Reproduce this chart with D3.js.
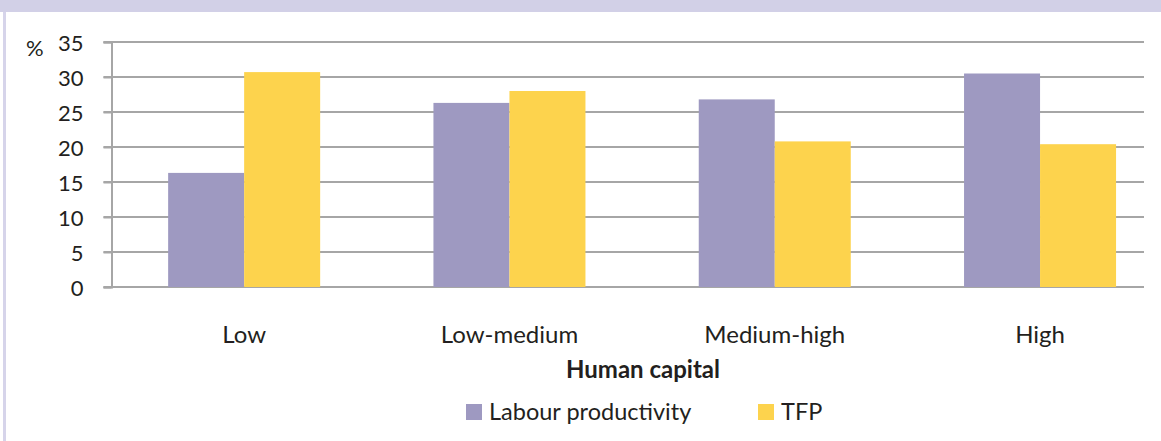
<!DOCTYPE html>
<html>
<head>
<meta charset="utf-8">
<script src="https://cdn.jsdelivr.net/npm/d3@7"></script>
<style>
  body { margin: 0; background: #fff; }
  text { font-family: Lato, "Open Sans", sans-serif; fill: #231f20; }
</style>
</head>
<body>
<div id="chart"></div>
<script>
var categories = ["Low", "Low-medium", "Medium-high", "High"];
var seriesNames = ["Labour productivity", "TFP"];
var labourProductivity = [16.3, 26.3, 26.8, 30.5];
var tfp = [30.7, 28.0, 20.8, 20.4];
var yTicks = [0, 5, 10, 15, 20, 25, 30, 35];
var seriesColors = ["#9e99c1", "#fdd34d"];

var width = 1161;
var height = 441;
var plotLeft = 111.5;
var plotTop = 42;
var plotBottom = 287;
var gridRight = 1144;
var step = 265.3;

var svg = d3.select("#chart")
    .append("svg")
    .attr("width", width)
    .attr("height", height);

// frame: header strip and left border
svg.append("rect").attr("x", 0).attr("y", 0).attr("width", width).attr("height", 12).attr("fill", "#d2d0e7");
svg.append("rect").attr("x", 3).attr("y", 12).attr("width", 3).attr("height", height - 12).attr("fill", "#d6d4ea");

var x = d3.scaleBand()
    .domain(categories)
    .range([plotLeft, plotLeft + step * categories.length])
    .paddingInner(0.427)
    .paddingOuter(0.2135);

var xs = d3.scaleBand()
    .domain(seriesNames)
    .range([0, x.bandwidth()]);

var y = d3.scaleLinear()
    .domain([0, 35])
    .range([plotBottom, plotTop]);

// gridlines
svg.append("g")
    .selectAll("line")
    .data(yTicks)
    .enter()
    .append("line")
    .attr("x1", plotLeft - 8)
    .attr("x2", gridRight)
    .attr("y1", d => y(d))
    .attr("y2", d => y(d))
    .attr("stroke", "#a6a6a6")
    .attr("stroke-width", 2);

var yAxis = svg.append("g")
    .attr("transform", "translate(" + plotLeft + ",0)")
    .call(d3.axisLeft(y).tickValues(yTicks).tickSize(8).tickPadding(20));
yAxis.select(".domain").attr("stroke", "#a6a6a6").attr("stroke-width", 2);
yAxis.selectAll(".tick line").attr("stroke", "#a6a6a6").attr("stroke-width", 2);
yAxis.selectAll(".tick text")
    .style("font-size", "22px")
    .style("font-family", "Lato, sans-serif")
    .attr("fill", "#231f20")
    .attr("dy", "0.38em");

svg.append("text")
    .attr("x", 26)
    .attr("y", 56)
    .style("font-size", "22px")
    .text("%");

var rows = categories.map(function(c, i) {
    return { cat: c, values: [labourProductivity[i], tfp[i]] };
});

var groups = svg.selectAll(".cat")
    .data(rows)
    .enter()
    .append("g")
    .attr("class", "cat")
    .attr("transform", d => "translate(" + x(d.cat) + ",0)");

groups.selectAll("rect")
    .data(d => d.values.map((v, j) => ({ name: seriesNames[j], value: v, color: seriesColors[j] })))
    .enter()
    .append("rect")
    .attr("x", d => xs(d.name))
    .attr("y", d => y(d.value))
    .attr("width", xs.bandwidth())
    .attr("height", d => plotBottom - y(d.value))
    .attr("fill", d => d.color);

// category labels
svg.append("g")
    .selectAll("text")
    .data(categories)
    .enter()
    .append("text")
    .attr("x", d => x(d) + x.bandwidth() / 2)
    .attr("y", 343)
    .attr("text-anchor", "middle")
    .style("font-size", "24px")
    .text(d => d);

svg.append("text")
    .attr("x", 643)
    .attr("y", 378)
    .attr("text-anchor", "middle")
    .style("font-size", "24px")
    .style("font-weight", "bold")
    .text("Human capital");

// legend
var legendX = [466, 758];
var legend = svg.selectAll(".legend")
    .data(seriesNames)
    .enter()
    .append("g")
    .attr("class", "legend")
    .attr("transform", (d, i) => "translate(" + legendX[i] + ",404)");

legend.append("rect")
    .attr("width", 16)
    .attr("height", 16)
    .attr("fill", (d, i) => seriesColors[i]);

legend.append("text")
    .attr("x", 23)
    .attr("y", 16)
    .style("font-size", "23.5px")
    .text(d => d);
</script>
</body>
</html>
